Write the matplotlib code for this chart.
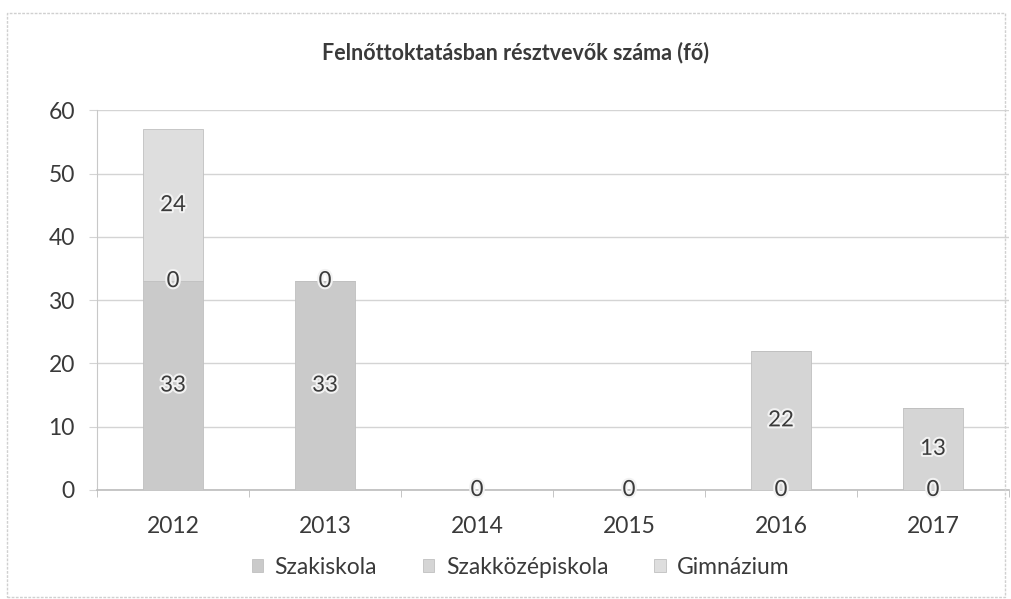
import matplotlib
matplotlib.use("Agg")
import matplotlib.pyplot as plt
import matplotlib.patheffects as pe
from matplotlib.patches import Rectangle
import numpy as np

# === Datos ===
evek = ["2012", "2013", "2014", "2015", "2016", "2017"]
szakiskola = [33, 33, 0, 0, 0, 0]
szakkozep = [0, 0, np.nan, np.nan, 22, 13]
gimnazium = [24, np.nan, np.nan, np.nan, np.nan, np.nan]

sorozatok = ["Szakiskola", "Szakközépiskola", "Gimnázium"]
szinek = ["#cacaca", "#d5d5d5", "#dedede"]

plt.rcParams["font.family"] = ["Lato", "DejaVu Sans"]
szoveg = "#3a3a3a"

fig = plt.figure(figsize=(10.11, 5.99), dpi=100)
ax = fig.add_axes([0.096, 0.182, 0.902, 0.634])

x = np.arange(len(evek))
alap = np.zeros(len(evek))
for nev, ertek, szin in zip(sorozatok, [szakiskola, szakkozep, gimnazium], szinek):
    v = np.array(ertek, dtype=float)
    h = np.nan_to_num(v)
    ax.bar(x, h, 0.39, bottom=alap, color=szin, edgecolor="#c0c0c0",
           linewidth=0.6, label=nev, zorder=3)
    for i in range(len(evek)):
        if not np.isnan(v[i]):
            t = ax.text(x[i], alap[i] + h[i] / 2, f"{int(v[i])}", ha="center",
                        va="center", fontsize=16, color=szoveg, zorder=5)
            t.set_path_effects([pe.withStroke(linewidth=3, foreground="#f2f2f2")])
    alap = alap + h

ax.set_xlim(-0.5, len(evek) - 0.5)
ax.set_ylim(0, 60)
ax.set_yticks(range(0, 61, 10))
ax.set_xticks(x)
ax.set_xticklabels(evek)
ax.set_xticks(np.arange(-0.5, len(evek), 1.0), minor=True)

ax.grid(axis="y", color="#d4d4d4", linewidth=1, zorder=0)
for s in ["top", "right"]:
    ax.spines[s].set_visible(False)
ax.spines["left"].set_color("#c8c8c8")
ax.spines["bottom"].set_color("#bcbcbc")
ax.spines["bottom"].set_linewidth(1.2)

ax.tick_params(axis="x", which="major", length=0, pad=19, labelsize=16.5, labelcolor=szoveg)
ax.tick_params(axis="x", which="minor", length=5, color="#bcbcbc", direction="out")
ax.tick_params(axis="y", length=6, color="#d4d4d4", pad=10, labelsize=16.5, labelcolor=szoveg)

fig.text(0.51, 0.913, "Felnőttoktatásban résztvevők száma (fő)", ha="center",
         va="center", fontsize=15.5, fontweight="bold", color=szoveg)

fig.legend(loc="center", bbox_to_anchor=(0.515, 0.053), ncol=3, frameon=False,
           fontsize=16.5, labelcolor=szoveg, handlelength=0.5, handleheight=0.5,
           handletextpad=0.5, columnspacing=2.0)

fig.add_artist(Rectangle((0.007, 0.003), 0.987, 0.975, transform=fig.transFigure,
                         fill=False, edgecolor="#d0d0d0", linestyle=(0, (2, 1)),
                         linewidth=1))

plt.savefig("out.png")
